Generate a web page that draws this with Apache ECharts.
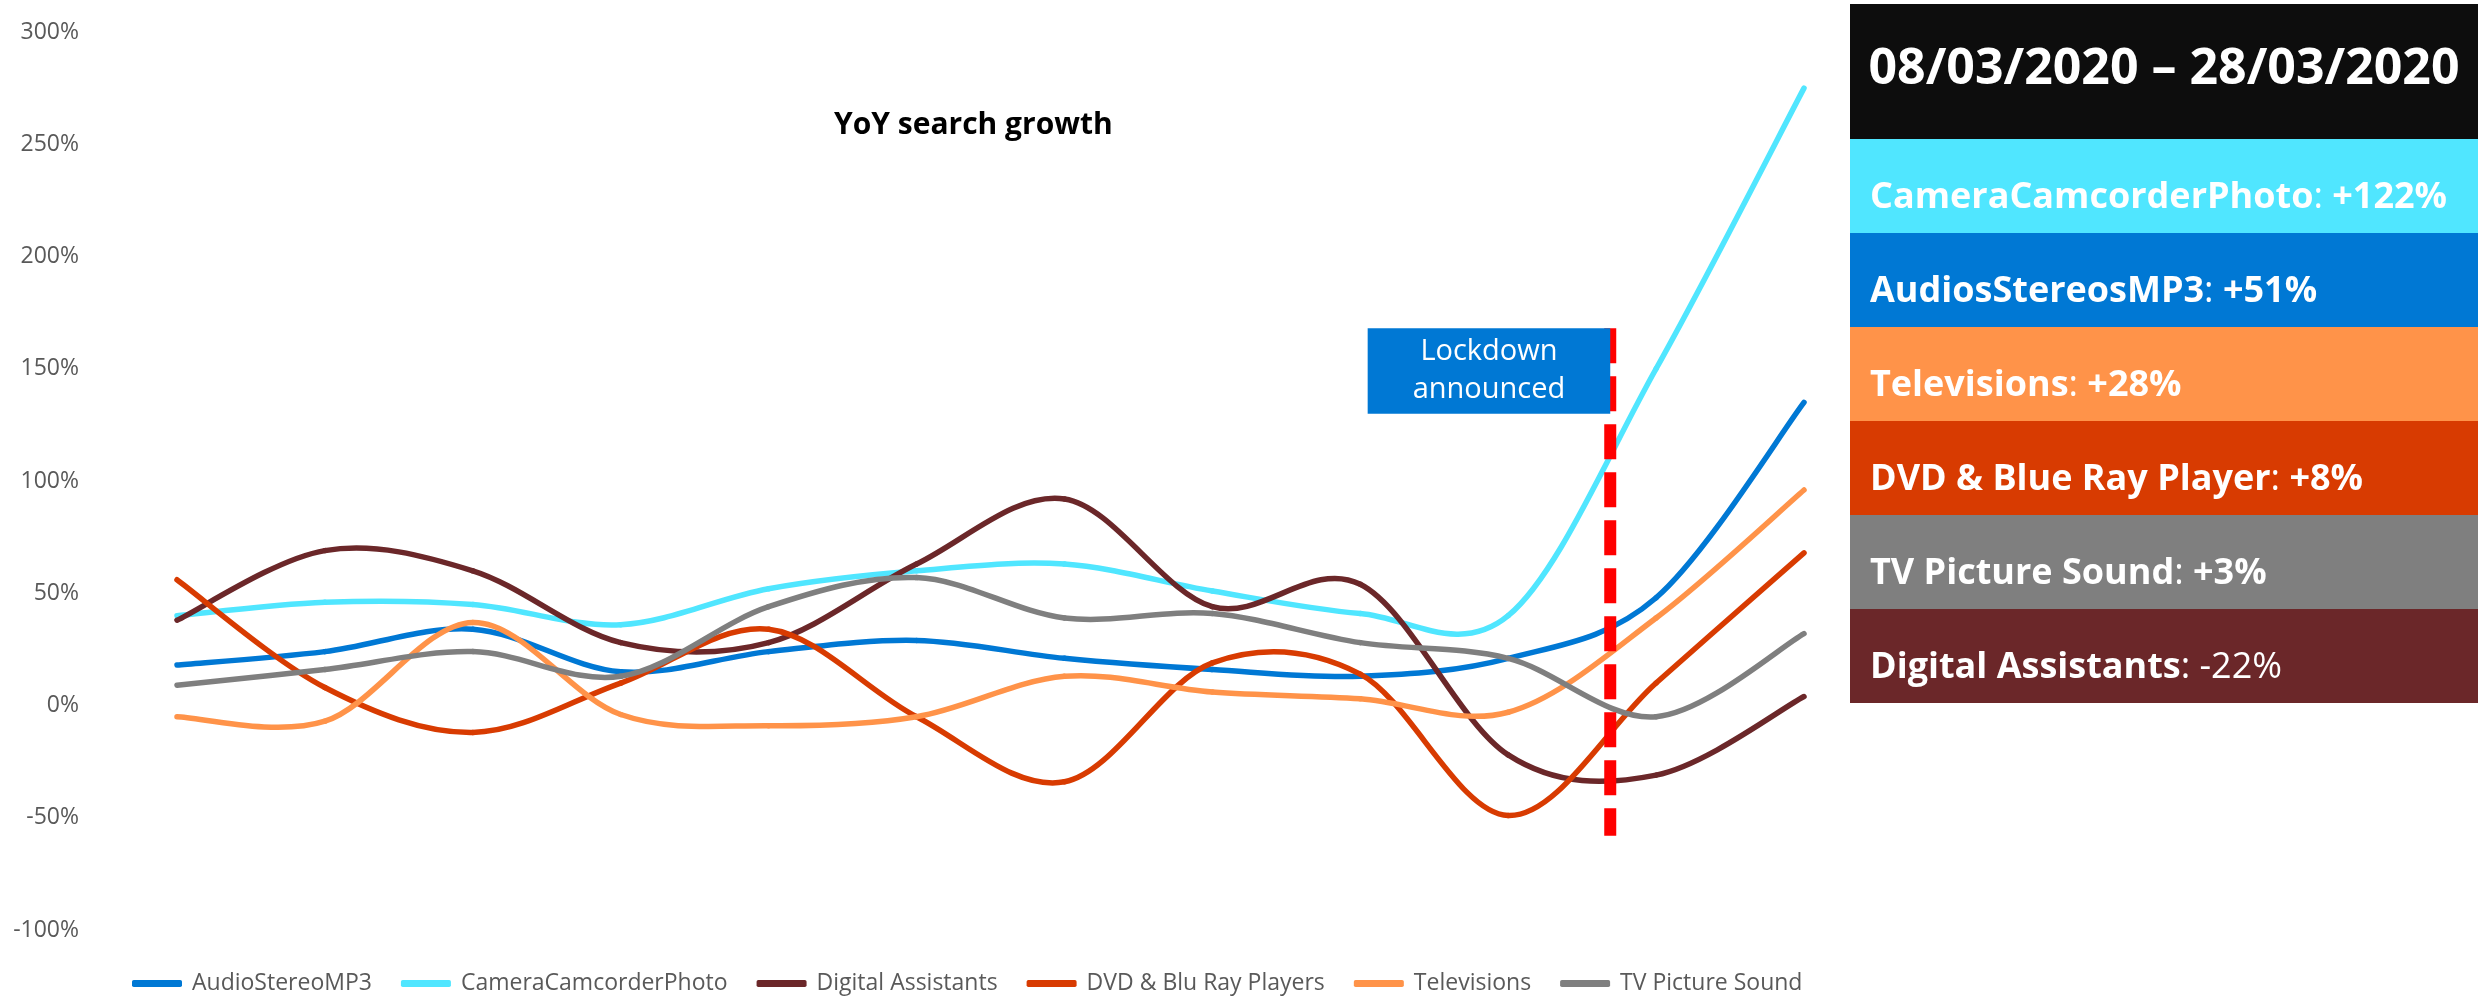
<!DOCTYPE html>
<html>
<head>
<meta charset="utf-8">
<script src="https://cdn.jsdelivr.net/npm/echarts@6/dist/echarts.min.js"></script>
<style>html,body{margin:0;padding:0;background:#fff}#c{width:2483px;height:1008px}</style>
</head>
<body>
<div id="c"></div>
<script>
// ---- data ----
const categories = ['05/01/2020','12/01/2020','19/01/2020','26/01/2020','02/02/2020','09/02/2020','16/02/2020','23/02/2020','01/03/2020','08/03/2020','15/03/2020','22/03/2020'];
const seriesNames = ['AudioStereoMP3','CameraCamcorderPhoto','Digital Assistants','DVD & Blu Ray Players','Televisions','TV Picture Sound'];
const audioStereoMP3       = [18, 24, 34, 15, 24, 29, 21, 16, 13, 21, 48, 135];
const cameraCamcorderPhoto = [40, 46, 45, 36, 52, 60, 63, 51, 41, 40, 150, 275];
const digitalAssistants    = [38, 69, 60, 28, 28, 63, 92, 44, 54, -22, -31, 4];
const dvdBluRayPlayers     = [56, 8, -12, 10, 34, -5, -34, 19, 14, -49, 10, 68];
const televisions          = [-5, -7, 37, -4, -9, -5, 13, 6, 3, -3, 39, 96];
const tvPictureSound       = [9, 16, 24, 13, 44, 57, 39, 41, 28, 21, -5, 32];
const yMin = -100, yMax = 300, yStep = 50;
// lockdown marker (position on the week index scale, value range)
const lockdownPos = 9.69, lockdownTop = 168, lockdownBottom = -58;
const lockdownBoxFrom = 8.05, lockdownBoxBottom = 130;
const lockdownText = 'Lockdown\nannounced';
const chartTitle = 'YoY search growth';
const panelTitle = '08/03/2020 \u2013 28/03/2020';
const panelNames   = ['CameraCamcorderPhoto','AudiosStereosMP3','Televisions','DVD & Blue Ray Player','TV Picture Sound','Digital Assistants'];
const panelChanges = ['+122%','+51%','+28%','+8%','+3%','-22%'];

// ---- styles ----
const FONT = '"Open Sans", "Noto Sans", sans-serif';
const colors = ['#0078D4','#50E6FF','#6B2729','#D83B01','#FF9349','#7F7F7F'];
const panelColors = ['#50E6FF','#0078D4','#FF9349','#D83B01','#7F7F7F','#6B2729'];
const allValues = [audioStereoMP3, cameraCamcorderPhoto, digitalAssistants, dvdBluRayPlayers, televisions, tvPictureSound];

const chart = echarts.init(document.getElementById('c'), null, {renderer: 'canvas'});

// smooth (Catmull-Rom style) line drawn segment by segment through the axis scales
function makeRenderer(values, color) {
  return function (params, api) {
    const i = params.dataIndex, n = values.length;
    if (i >= n - 1) return null;
    const P = k => api.coord([Math.max(0, Math.min(n - 1, k)), values[Math.max(0, Math.min(n - 1, k))]]);
    const p0 = P(i - 1), p1 = P(i), p2 = P(i + 1), p3 = P(i + 2);
    return {
      type: 'bezierCurve',
      shape: {
        x1: p1[0], y1: p1[1], x2: p2[0], y2: p2[1],
        cpx1: p1[0] + (p2[0] - p0[0]) / 6, cpy1: p1[1] + (p2[1] - p0[1]) / 6,
        cpx2: p2[0] - (p3[0] - p1[0]) / 6, cpy2: p2[1] - (p3[1] - p1[1]) / 6
      },
      style: {stroke: color, lineWidth: 5.5, fill: 'none', lineCap: 'round', lineJoin: 'round'}
    };
  };
}

const lineSeries = seriesNames.map((name, i) => ({
  name, type: 'custom', renderItem: makeRenderer(allValues[i], colors[i]),
  data: allValues[i].map((v, k) => [k, v]), encode: {x: 0, y: 1},
  itemStyle: {color: colors[i]}, z: 2, silent: true
}));

const panelX = 1850, panelW = 628, headTop = 4, headH = 135, bandH = 94;
const graphics = [
  {type: 'rect', shape: {x: panelX, y: headTop, width: panelW, height: headH}, style: {fill: '#0D0D0D'}},
  {type: 'text', x: panelX + panelW / 2, y: headTop + headH / 2 - 2,
   style: {text: panelTitle, fill: '#fff', fontSize: 50, fontWeight: 'bold', fontFamily: FONT, align: 'center', verticalAlign: 'middle'}}
];
panelNames.forEach((n, i) => {
  const y0 = headTop + headH + i * bandH;
  graphics.push({type: 'rect', shape: {x: panelX, y: y0, width: panelW, height: bandH}, style: {fill: panelColors[i]}});
  const neg = panelChanges[i].charAt(0) === '-';
  graphics.push({type: 'text', x: panelX + 20, y: y0 + bandH / 2 + 12,
    style: {text: '{b|' + n + '}{n|: }{' + (neg ? 'n' : 'b') + '|' + panelChanges[i] + '}',
      fill: '#fff', align: 'left', verticalAlign: 'middle', fontFamily: FONT,
      rich: {b: {fontSize: 36, fontWeight: 'bold', fill: '#fff', fontFamily: FONT},
             n: {fontSize: 36, fontWeight: 'normal', fill: '#fff', fontFamily: FONT}}}});
});

chart.setOption({
  backgroundColor: '#fff',
  animation: false,
  textStyle: {fontFamily: FONT},
  title: {text: chartTitle, left: 829, top: 105, textStyle: {fontSize: 30, fontWeight: 'bold', color: '#000', fontFamily: FONT}},
  legend: {data: seriesNames, left: 127, top: 967, icon: 'roundRect', itemWidth: 50, itemHeight: 7, itemGap: 29,
    textStyle: {fontSize: 23, color: '#595959', fontFamily: FONT, padding: [0, 0, 0, 5]}},
  grid: {left: 177, right: 679, top: 32, bottom: 78, containLabel: false},
  xAxis: [
    {type: 'category', data: categories, boundaryGap: false, show: false},
    {type: 'value', min: 0, max: categories.length - 1, show: false}
  ],
  yAxis: {type: 'value', min: yMin, max: yMax, interval: yStep,
    axisLine: {show: false}, axisTick: {show: false}, splitLine: {show: false},
    axisLabel: {formatter: '{value}%', color: '#595959', fontSize: 23, margin: 98, fontFamily: FONT}},
  series: lineSeries.concat([
    {name: 'lockdown', type: 'line', xAxisIndex: 1, data: [[lockdownPos, lockdownTop], [lockdownPos, lockdownBottom]],
     symbol: 'none', silent: true, z: 3,
     lineStyle: {color: '#FF0000', width: 12, type: [35, 13], cap: 'butt'}},
    {name: 'lockdownBox', type: 'line', xAxisIndex: 1, data: [], silent: true, z: 4,
     markArea: {silent: true, z: 4,
       itemStyle: {color: '#0078D4'},
       label: {show: true, position: 'inside', color: '#fff', fontSize: 29, lineHeight: 38, fontFamily: FONT, align: 'center', verticalAlign: 'middle'},
       data: [[{coord: [lockdownBoxFrom, lockdownTop], name: lockdownText}, {coord: [lockdownPos, lockdownBoxBottom]}]]}}
  ]),
  graphic: graphics
});
</script>
</body>
</html>
